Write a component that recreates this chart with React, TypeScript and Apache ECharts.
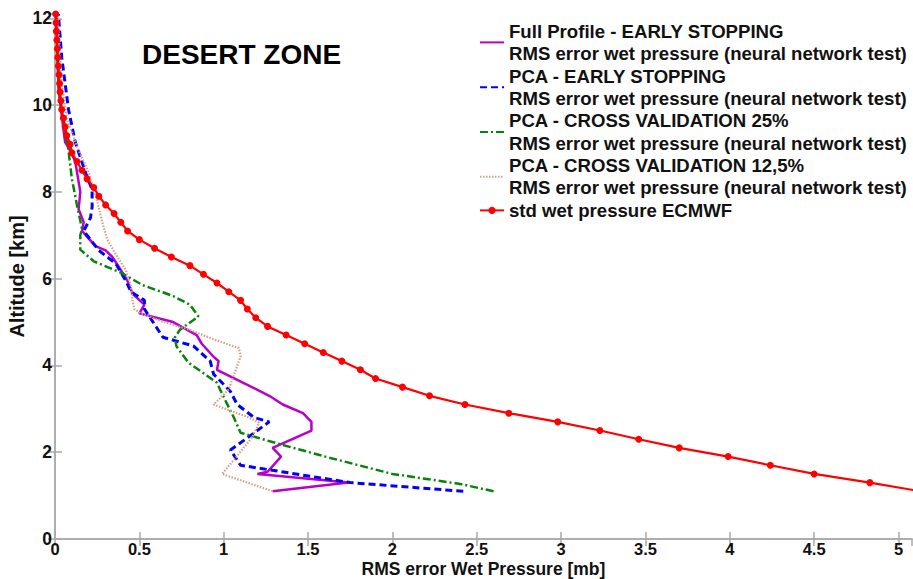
import React, { useEffect, useRef } from "react";
import * as echarts from "echarts";

// ---- data (x = RMS error / std [mb], alt = altitude [km]) ----
const FULL_ALT = [1.1, 1.3, 1.5, 1.55, 1.9, 2.1, 2.5, 2.7, 2.9, 3.1, 3.3, 3.9, 4.1, 4.2, 4.5, 4.7, 5.0, 5.2, 5.4, 5.65, 5.95, 6.2, 6.5, 6.65, 6.75, 7.1, 7.3, 7.6, 8.0, 8.7, 8.95, 9.15, 9.75, 10.4, 11.0, 12.1];
const FULL_VAL = [1.29, 1.74, 1.2, 1.26, 1.34, 1.29, 1.52, 1.52, 1.47, 1.35, 1.27, 0.96, 0.97, 0.94, 0.87, 0.84, 0.7, 0.5, 0.53, 0.46, 0.43, 0.39, 0.34, 0.3, 0.24, 0.16, 0.17, 0.14, 0.15, 0.12, 0.09, 0.06, 0.04, 0.02, 0.015, 0.01];

const PCA_ES_ALT = [1.1, 1.3, 1.7, 2.05, 2.7, 2.8, 3.1, 3.4, 3.8, 4.1, 4.45, 4.65, 5.3, 5.5, 5.7, 5.95, 6.35, 6.65, 7.1, 7.4, 7.65, 8.05, 8.45, 8.8, 9.15, 9.9, 10.5, 11.1, 12.1];
const PCA_ES_VAL = [2.42, 1.75, 1.1, 1.04, 1.27, 1.18, 1.08, 1.04, 0.94, 0.92, 0.82, 0.64, 0.53, 0.53, 0.45, 0.42, 0.36, 0.26, 0.17, 0.21, 0.22, 0.22, 0.18, 0.15, 0.12, 0.08, 0.06, 0.04, 0.02];

const PCA_CV25_ALT = [1.1, 1.27, 1.5, 1.88, 2.2, 2.45, 2.8, 3.35, 3.6, 4.07, 4.44, 4.64, 4.82, 5.13, 5.4, 5.6, 5.85, 6.14, 6.4, 6.67, 7.0, 7.15, 7.7, 8.3, 8.95, 9.4, 10.1, 11.0, 12.1];
const PCA_CV25_VAL = [2.6, 2.4, 2.0, 1.62, 1.32, 1.1, 1.06, 0.99, 0.96, 0.79, 0.72, 0.71, 0.74, 0.85, 0.8, 0.7, 0.52, 0.39, 0.23, 0.15, 0.15, 0.16, 0.13, 0.1, 0.08, 0.06, 0.03, 0.015, 0.005];

const PCA_CV125_ALT = [1.1, 1.5, 1.82, 2.35, 2.68, 2.8, 3.1, 3.25, 3.45, 4.1, 4.2, 4.4, 4.6, 4.82, 5.02, 5.2, 5.3, 5.5, 5.82, 6.2, 6.5, 6.9, 7.3, 7.8, 8.3, 8.45, 9.05, 9.7, 10.5, 12.1];
const PCA_CV125_VAL = [1.29, 0.99, 1.06, 1.17, 1.21, 1.15, 0.94, 0.98, 1.03, 1.09, 1.1, 1.09, 0.94, 0.8, 0.63, 0.51, 0.47, 0.46, 0.45, 0.42, 0.37, 0.31, 0.28, 0.25, 0.21, 0.2, 0.13, 0.07, 0.04, 0.015];

const STD_ALT = [1.1, 1.3, 1.5, 1.7, 1.9, 2.1, 2.3, 2.5, 2.7, 2.9, 3.1, 3.3, 3.5, 3.7, 3.9, 4.1, 4.3, 4.5, 4.7, 4.9, 5.1, 5.3, 5.5, 5.7, 5.9, 6.1, 6.3, 6.5, 6.7, 6.9, 7.1, 7.3, 7.5, 7.7, 7.9, 8.1, 8.3, 8.5, 8.7, 8.9, 9.1, 9.3, 9.5, 9.7, 9.9, 10.1, 10.3, 10.5, 10.7, 10.9, 11.1, 11.3, 11.5, 11.7, 11.9, 12.1];
const STD_VAL = [5.13, 4.83, 4.5, 4.24, 3.99, 3.7, 3.46, 3.23, 2.98, 2.69, 2.43, 2.22, 2.06, 1.9, 1.81, 1.7, 1.59, 1.48, 1.37, 1.26, 1.19, 1.14, 1.1, 1.03, 0.96, 0.88, 0.8, 0.69, 0.59, 0.5, 0.43, 0.39, 0.35, 0.3, 0.26, 0.23, 0.19, 0.16, 0.13, 0.1, 0.09, 0.07, 0.06, 0.05, 0.04, 0.035, 0.03, 0.027, 0.024, 0.02, 0.017, 0.014, 0.011, 0.008, 0.006, 0.004];

const SERIES_KEYS = ["full", "pcaES", "pcaCV25", "pcaCV125", "std"];
const LEGEND_LABELS = [
  "Full Profile - EARLY STOPPING\nRMS error wet pressure (neural network test)",
  "PCA - EARLY STOPPING\nRMS error wet pressure (neural network test)",
  "PCA - CROSS VALIDATION 25%\nRMS error wet pressure (neural network test)",
  "PCA - CROSS VALIDATION 12,5%\nRMS error wet pressure (neural network test)",
  "std wet pressure ECMWF",
];
const TITLE = "DESERT ZONE";
const X_NAME = "RMS error Wet Pressure [mb]";
const Y_NAME = "Altitude [km]";

const pairs = (vals: number[], alts: number[]) => vals.map((v, i) => [v, alts[i]]);

const FONT = "'Liberation Sans', Arial, Helvetica, sans-serif";

export default function App() {
  const ref = useRef<HTMLDivElement>(null);
  useEffect(() => {
    if (!ref.current) return;
    const chart = echarts.init(ref.current, null, { renderer: "svg" });
    const axisLineStyle = { color: "#a8a8a8", width: 1.5 };
    const labelStyle = { color: "#111", fontSize: 16.5, lineHeight: 16, fontWeight: "bold" as const, fontFamily: FONT };
    const legendMap: Record<string, string> = {};
    SERIES_KEYS.forEach((k, i) => (legendMap[k] = LEGEND_LABELS[i]));

    chart.setOption({
      animation: false,
      backgroundColor: "#ffffff",
      grid: { left: 55, right: 1, top: 14, bottom: 40, containLabel: false, outerBoundsMode: "none" },
      graphic: [
        {
          type: "text",
          left: 142,
          top: 40,
          style: { text: TITLE, fontSize: 28, fontWeight: "bold", fontFamily: FONT, fill: "#000" },
        },
      ],
      legend: {
        orient: "vertical",
        left: 479,
        top: 20,
        padding: 0,
        itemGap: 0,
        itemWidth: 24,
        itemHeight: 9,
        data: SERIES_KEYS.map((k) =>
          k === "std" ? { name: k } : { name: k, itemStyle: { opacity: 0 } }
        ),
        formatter: (n: string) => legendMap[n] || n,
        textStyle: { color: "#111", fontSize: 18.6, fontWeight: "bold", fontFamily: FONT, lineHeight: 22.4 },
      },
      xAxis: [
        {
          type: "value",
          min: 0,
          max: 5.08,
          interval: 0.5,
          name: X_NAME,
          nameLocation: "middle",
          nameGap: 21.5,
          nameMoveOverlap: false,
          nameTextStyle: { color: "#111", fontSize: 17.5, lineHeight: 17, fontWeight: "bold", fontFamily: FONT },
          axisLine: { show: true, lineStyle: axisLineStyle },
          axisTick: { show: true, inside: true, length: 7, lineStyle: axisLineStyle },
          axisLabel: { ...labelStyle, margin: 2, showMaxLabel: false },
          splitLine: { show: false },
        },
        {
          type: "value",
          position: "top",
          min: 0,
          max: 5.08,
          interval: 0.5,
          axisLine: { show: true, lineStyle: axisLineStyle },
          axisTick: { show: true, inside: true, length: 7, lineStyle: axisLineStyle },
          axisLabel: { show: false },
          splitLine: { show: false },
        },
      ],
      yAxis: [
        {
          type: "value",
          min: 0,
          max: 12.1,
          interval: 2,
          name: Y_NAME,
          nameLocation: "middle",
          nameGap: 28,
          nameRotate: 90,
          nameMoveOverlap: false,
          nameTextStyle: { color: "#111", fontSize: 20, fontWeight: "bold", fontFamily: FONT },
          axisLine: { show: true, lineStyle: axisLineStyle },
          axisTick: { show: true, inside: true, length: 7, lineStyle: axisLineStyle },
          axisLabel: { ...labelStyle, fontSize: 17.5, margin: 3, showMaxLabel: false },
          splitLine: { show: false },
        },
        {
          type: "value",
          position: "right",
          min: 0,
          max: 12.1,
          interval: 2,
          axisLine: { show: true, lineStyle: axisLineStyle },
          axisTick: { show: true, inside: true, length: 7, lineStyle: axisLineStyle },
          axisLabel: { show: false },
          splitLine: { show: false },
        },
      ],
      series: [
        {
          name: "full",
          type: "line",
          data: pairs(FULL_VAL, FULL_ALT),
          symbol: "none",
          lineStyle: { color: "#B800C8", width: 2.5 },
          itemStyle: { color: "#B800C8" },
          clip: true,
        },
        {
          name: "pcaES",
          type: "line",
          data: pairs(PCA_ES_VAL, PCA_ES_ALT),
          symbol: "none",
          lineStyle: { color: "#0000ff", width: 3, type: [7, 4] },
          itemStyle: { color: "#0000ff" },
          clip: true,
        },
        {
          name: "pcaCV25",
          type: "line",
          data: pairs(PCA_CV25_VAL, PCA_CV25_ALT),
          symbol: "none",
          lineStyle: { color: "#0a820a", width: 2.5, type: [8, 3, 2, 3] },
          itemStyle: { color: "#0a820a" },
          clip: true,
        },
        {
          name: "pcaCV125",
          type: "line",
          data: pairs(PCA_CV125_VAL, PCA_CV125_ALT),
          symbol: "none",
          lineStyle: { color: "#D49E86", width: 2.2, type: [1.5, 1.5] },
          itemStyle: { color: "#D49E86" },
          clip: true,
        },
        {
          name: "std",
          type: "line",
          data: pairs(STD_VAL, STD_ALT),
          symbol: "circle",
          symbolSize: 7,
          lineStyle: { color: "#ff0000", width: 2.2 },
          itemStyle: { color: "#ff0000" },
          clip: true,
        },
      ],
    });
    return () => chart.dispose();
  }, []);
  return <div ref={ref} style={{ position: "fixed", left: 0, top: 0, width: 913, height: 579 }} />;
}
